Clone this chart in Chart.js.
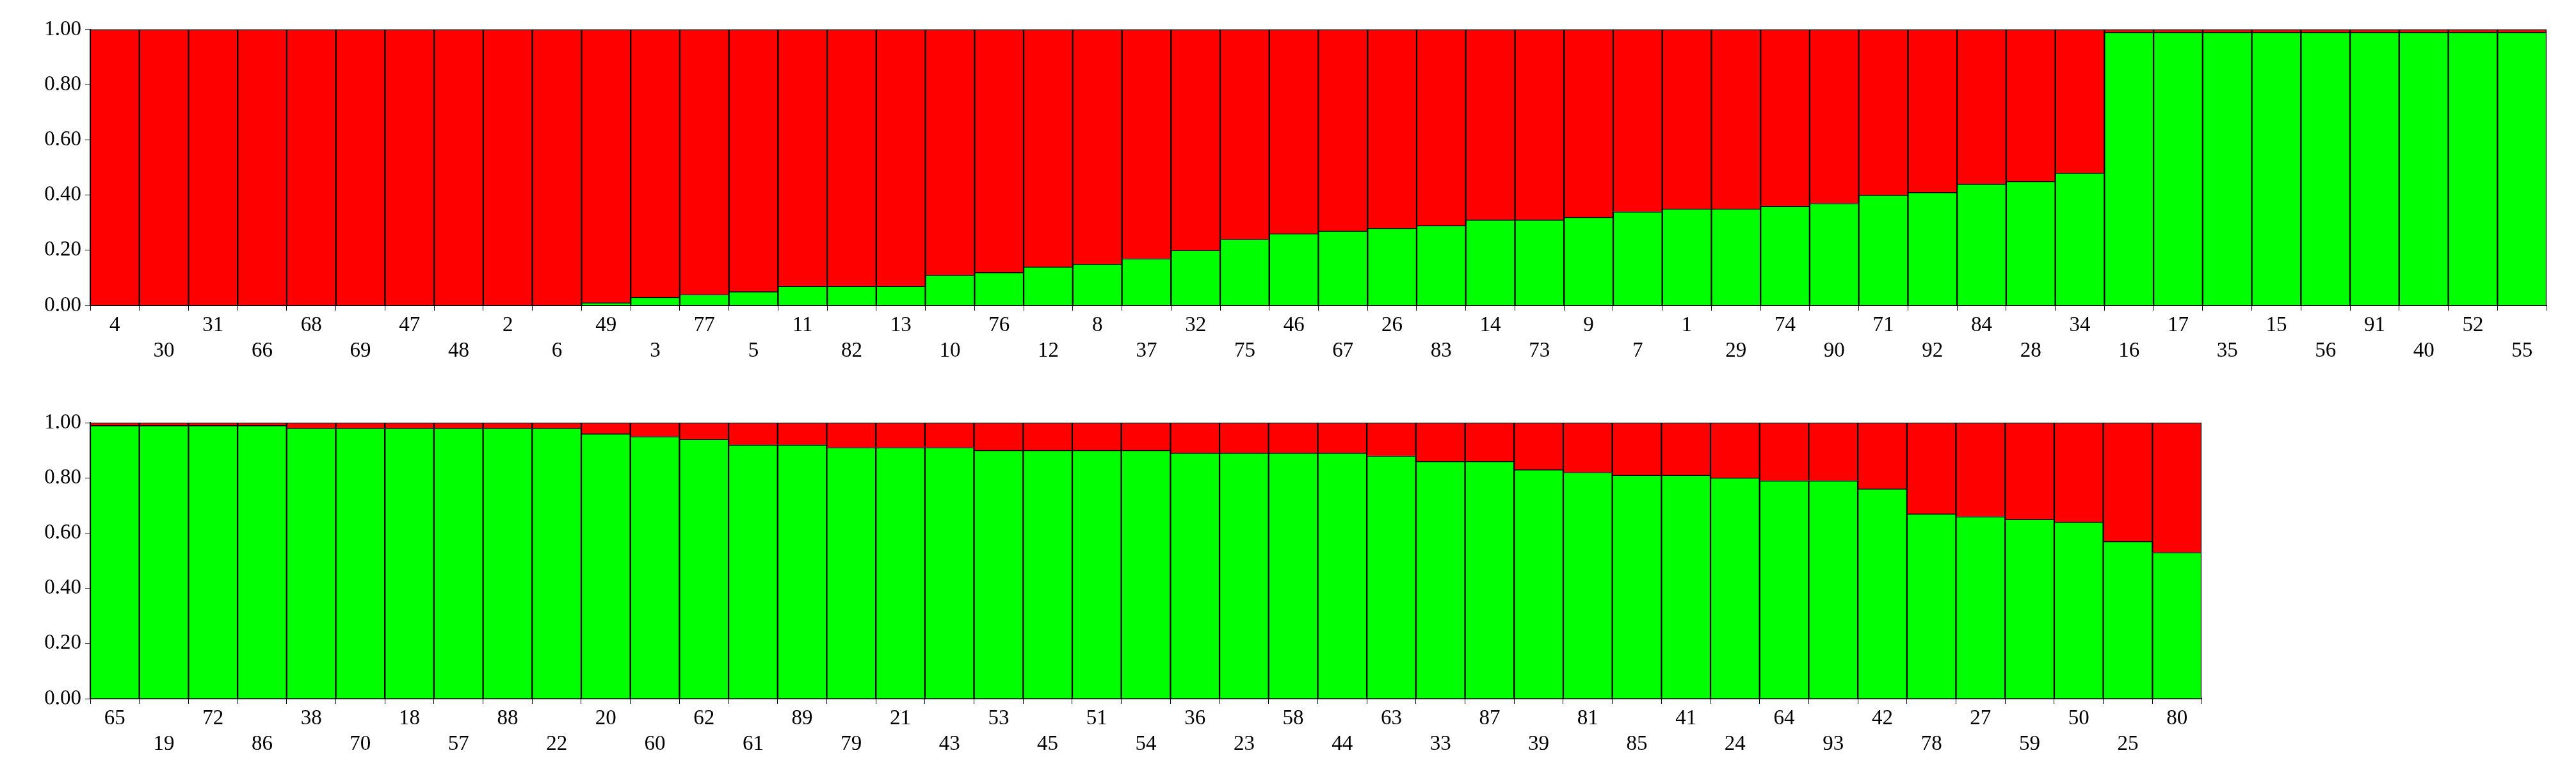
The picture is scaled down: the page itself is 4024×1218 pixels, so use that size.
<!DOCTYPE html><html><head><script src="https://cdn.jsdelivr.net/npm/chart.js@4"></script>
<style>body{margin:0;background:#fff;width:4024px;height:1218px;overflow:hidden;position:relative}
.c{position:absolute;left:0;width:4024px;height:587px}</style></head><body>
<div class="c" style="top:0"><canvas id="a"></canvas></div>
<div class="c" style="top:614px"><canvas id="b"></canvas></div>
<script>
const topLabels=[4,30,31,66,68,69,47,48,2,6,49,3,77,5,11,82,13,10,76,12,8,37,32,75,46,67,26,83,14,73,9,7,1,29,74,90,71,92,84,28,34,16,17,35,15,56,91,40,52,55];
const topGreen=[0,0,0,0,0,0,0,0,0,0,0.01,0.03,0.04,0.05,0.07,0.07,0.07,0.11,0.12,0.14,0.15,0.17,0.20,0.24,0.26,0.27,0.28,0.29,0.31,0.31,0.32,0.34,0.35,0.35,0.36,0.37,0.40,0.41,0.44,0.45,0.48,0.99,0.99,0.99,0.99,0.99,0.99,0.99,0.99,0.99];
const botLabels=[65,19,72,86,38,70,18,57,88,22,20,60,62,61,89,79,21,43,53,45,51,54,36,23,58,44,63,33,87,39,81,85,41,24,64,93,42,78,27,59,50,25,80];
const botGreen=[0.99,0.99,0.99,0.99,0.98,0.98,0.98,0.98,0.98,0.98,0.96,0.95,0.94,0.92,0.92,0.91,0.91,0.91,0.90,0.90,0.90,0.90,0.89,0.89,0.89,0.89,0.88,0.86,0.86,0.83,0.82,0.81,0.81,0.80,0.79,0.79,0.76,0.67,0.66,0.65,0.64,0.57,0.53];
const yTicks=[0,0.2,0.4,0.6,0.8,1.0];
Chart.defaults.font.family='"Liberation Serif","Times New Roman",serif';
Chart.defaults.font.size=33;Chart.defaults.color='#000';
function make(id,labels,green,rightPad){
 new Chart(document.getElementById(id),{type:'bar',
 data:{labels:labels.map((l,i)=>i%2?['',String(l)]:[String(l),'']),
  datasets:[{data:green,backgroundColor:'#00ff00',borderColor:'#000',borderWidth:1.5},
            {data:green.map(g=>+(1-g).toFixed(2)),backgroundColor:'#ff0000',borderColor:'#000',borderWidth:1.5}]},
 options:{responsive:true,maintainAspectRatio:false,animation:false,
  layout:{padding:{left:0,right:rightPad,top:46,bottom:0}},
  plugins:{legend:{display:false},tooltip:{enabled:false}},
  datasets:{bar:{barPercentage:1,categoryPercentage:1}},
  scales:{
   x:{stacked:true,afterFit:s=>{s.height=110},border:{color:'#000',width:2},
      grid:{display:true,drawOnChartArea:false,offset:true,color:'#000',tickLength:8},
      ticks:{maxRotation:0,autoSkip:false,padding:4}},
   y:{stacked:true,min:0,max:1,afterFit:s=>{s.width=141},border:{color:'#000',width:2},
      afterBuildTicks:s=>{s.ticks=yTicks.map(v=>({value:v}))},
      grid:{display:true,drawOnChartArea:false,color:'#000',tickLength:8},
      ticks:{callback:v=>v.toFixed(2),padding:6}}}}});
}
make('a',topLabels,topGreen,46);
make('b',botLabels,botGreen,585);
</script></body></html>
